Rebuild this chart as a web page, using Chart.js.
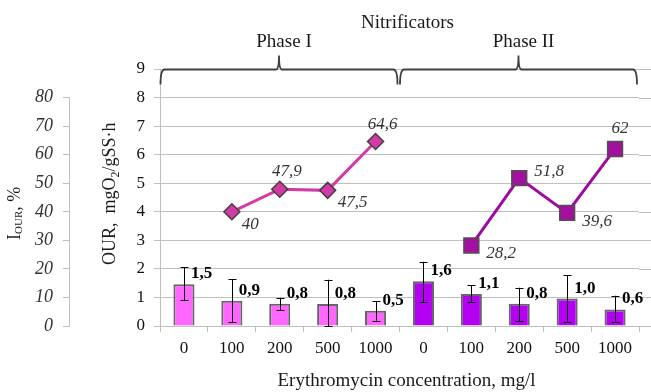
<!DOCTYPE html>
<html>
<head>
<meta charset="utf-8">
<script src="https://cdn.jsdelivr.net/npm/chart.js@4.4.1/dist/chart.umd.min.js"></script>
<style>
  html, body { margin: 0; padding: 0; background: #fff; }
</style>
</head>
<body>
<canvas id="chart" width="651" height="392"></canvas>
<script>
// values
const concentrations = ['0', '100', '200', '500', '1000', '0', '100', '200', '500', '1000'];
const phaseNames = ['Phase I', 'Phase II'];
const ourPhase1 = [1.46, 0.88, 0.78, 0.77, 0.53, null, null, null, null, null];
const ourPhase2 = [null, null, null, null, null, 1.57, 1.12, 0.78, 0.96, 0.58];
const ourErrLow = [0.91, 0.13, 0.55, 0.0, 0.19, 0.85, 0.83, 0.17, 0.13, 0.13];
const ourErrHigh = [2.05, 1.64, 0.99, 1.62, 0.87, 2.25, 1.43, 1.34, 1.77, 1.06];
const iourPhase1 = [null, 40, 47.9, 47.5, 64.6, null, null, null, null, null];
const iourPhase2 = [null, null, null, null, null, null, 28.2, 51.8, 39.6, 62];
const ourTicks = [0, 1, 2, 3, 4, 5, 6, 7, 8, 9];

const SERIF = 'Liberation Serif';
const GRID = '#BFBFBF';

const fmt = v => String(v).replace('.', ',');

// where the italic value labels sit around each marker
const labelOffsets = {
  rectRot: { a: [7, -13, 'center'], br: [10, 17, 'left'] },
  rect: { a: [5, -16, 'center'], br: [15, 13, 'left'], r: [15, -2, 'left'] }
};

function richText(ctx, parts) {
  let x = 0;
  for (const p of parts) {
    ctx.font = p.font;
    ctx.fillText(p.t, x, p.dy || 0);
    x += ctx.measureText(p.t).width;
  }
}

const annotations = {
  id: 'annotations',
  afterDatasetsDraw(chart) {
    const { ctx, chartArea: { left, right }, scales: { x, y, y2 } } = chart;
    ctx.save();

    // grid lines run on a bit past the last category
    ctx.strokeStyle = GRID;
    ctx.lineWidth = 1;
    ourTicks.forEach(v => {
      const py = Math.round(y.getPixelForValue(v)) + 0.5;
      ctx.beginPath();
      ctx.moveTo(right, py);
      ctx.lineTo(chart.width, py);
      ctx.stroke();
    });

    // I_OUR axis line only covers 0..80
    const ax = Math.round(y2.right) - 0.5;
    ctx.beginPath();
    ctx.moveTo(ax, y2.getPixelForValue(0));
    ctx.lineTo(ax, y2.getPixelForValue(80));
    ctx.stroke();

    // error bars
    ctx.strokeStyle = '#000';
    ctx.lineWidth = 1;
    concentrations.forEach((c, i) => {
      const px = Math.round(x.getPixelForValue(i)) + 0.5;
      const lo = y.getPixelForValue(ourErrLow[i]);
      const hi = y.getPixelForValue(ourErrHigh[i]);
      ctx.beginPath();
      ctx.moveTo(px, lo); ctx.lineTo(px, hi);
      ctx.moveTo(px - 4, Math.round(hi) + 0.5); ctx.lineTo(px + 4, Math.round(hi) + 0.5);
      ctx.moveTo(px - 4, Math.round(lo) + 0.5); ctx.lineTo(px + 4, Math.round(lo) + 0.5);
      ctx.stroke();
    });

    // bold bar values
    ctx.fillStyle = '#000';
    ctx.font = 'bold 17px ' + SERIF;
    ctx.textAlign = 'left';
    ctx.textBaseline = 'alphabetic';
    concentrations.forEach((c, i) => {
      const v = ourPhase1[i] != null ? ourPhase1[i] : ourPhase2[i];
      ctx.fillText(fmt(v.toFixed(1)), x.getPixelForValue(i) + 7, y.getPixelForValue(v) - 6);
    });

    // italic I_OUR values
    ctx.fillStyle = '#333';
    ctx.font = 'italic 17px ' + SERIF;
    chart.data.datasets.forEach((ds, di) => {
      if (!ds.labelPlace) return;
      const meta = chart.getDatasetMeta(di);
      ds.data.forEach((v, i) => {
        if (v == null) return;
        const el = meta.data[i];
        const [dx, dy, align] = labelOffsets[ds.pointStyle][ds.labelPlace[i]];
        ctx.textAlign = align;
        ctx.fillText(fmt(v), el.x + dx, el.y + dy);
      });
    });

    // phase braces
    const step = x.getPixelForValue(1) - x.getPixelForValue(0);
    const yb = Math.round(y.getPixelForValue(9)) + 0.5;
    ctx.strokeStyle = '#404040';
    ctx.lineWidth = 1.8;
    ctx.fillStyle = '#1a1a1a';
    ctx.font = '19px ' + SERIF;
    ctx.textAlign = 'center';
    phaseNames.forEach((name, g) => {
      const x0 = x.getPixelForValue(g * 5) - step / 2 + 0.5;
      const x1 = x.getPixelForValue(g * 5 + 4) + step / 2 - 2;
      const mid = (x0 + x1) / 2;
      ctx.beginPath();
      ctx.moveTo(x0, yb + 15);
      ctx.quadraticCurveTo(x0, yb, x0 + 4, yb);
      ctx.lineTo(mid - 3, yb);
      ctx.quadraticCurveTo(mid, yb, mid, yb - 14);
      ctx.quadraticCurveTo(mid, yb, mid + 3, yb);
      ctx.lineTo(x1 - 4, yb);
      ctx.quadraticCurveTo(x1, yb, x1, yb + 15);
      ctx.stroke();
      ctx.fillText(name, mid + 5, yb - 23);
    });
    ctx.fillText('Nitrificators', (left + right) / 2 + 8, 28);

    // x title
    ctx.fillText('Erythromycin concentration, mg/l', (left + right) / 2 + 7, 386);

    // rotated y titles with subscripts
    ctx.textAlign = 'left';
    ctx.save();
    ctx.translate(115, 265);
    ctx.rotate(-Math.PI / 2);
    richText(ctx, [
      { t: 'OUR,  mgO', font: '18px ' + SERIF },
      { t: '2', font: '12px ' + SERIF, dy: 4 },
      { t: '/gSS·h', font: '18px ' + SERIF }
    ]);
    ctx.restore();

    ctx.save();
    ctx.translate(20, 240);
    ctx.rotate(-Math.PI / 2);
    richText(ctx, [
      { t: 'I', font: '18px ' + SERIF },
      { t: 'OUR', font: '11px ' + SERIF, dy: 2 },
      { t: ', %', font: '18px ' + SERIF }
    ]);
    ctx.restore();

    ctx.restore();
  }
};

new Chart(document.getElementById('chart'), {
  type: 'bar',
  data: {
    labels: concentrations,
    datasets: [{
      type: 'line',
      label: 'I OUR, phase I',
      data: iourPhase1,
      yAxisID: 'y2',
      order: 1,
      borderColor: '#D43AA6',
      borderWidth: 3,
      pointStyle: 'rectRot',
      pointRadius: 8,
      pointBackgroundColor: '#D43AA6',
      pointBorderColor: '#404040',
      pointBorderWidth: 1.5,
      labelPlace: [null, 'br', 'a', 'br', 'a', null, null, null, null, null]
    }, {
      type: 'line',
      label: 'I OUR, phase II',
      data: iourPhase2,
      yAxisID: 'y2',
      order: 1,
      borderColor: '#9E0C9E',
      borderWidth: 3,
      pointStyle: 'rect',
      pointRadius: 10.5,
      pointBackgroundColor: '#A3109F',
      pointBorderColor: '#505050',
      pointBorderWidth: 1.5,
      labelPlace: [null, null, null, null, null, null, 'br', 'r', 'br', 'a']
    }, {
      label: 'OUR, phase I',
      data: ourPhase1,
      order: 2,
      grouped: false,
      backgroundColor: '#FF66FF',
      borderColor: '#666666',
      borderWidth: 2,
      barPercentage: 0.44,
      categoryPercentage: 1
    }, {
      label: 'OUR, phase II',
      data: ourPhase2,
      order: 2,
      grouped: false,
      backgroundColor: '#B300F2',
      borderColor: '#666666',
      borderWidth: 2,
      barPercentage: 0.44,
      categoryPercentage: 1
    }]
  },
  options: {
    responsive: false,
    animation: false,
    layout: { padding: { top: 69, right: 9, bottom: 0, left: 0 } },
    plugins: {
      legend: { display: false },
      tooltip: { enabled: false }
    },
    scales: {
      x: {
        grid: { drawOnChartArea: false, tickLength: 6, color: GRID, offset: true },
        border: { color: GRID },
        ticks: { font: { family: SERIF, size: 17 }, color: '#111', padding: 6, maxRotation: 0, autoSkip: false },
        afterFit: s => { s.height = 66; }
      },
      y: {
        position: 'left',
        weight: 0,
        min: 0,
        max: 9,
        ticks: { stepSize: 1, font: { family: SERIF, size: 17 }, color: '#111', padding: 9 },
        grid: { color: GRID, tickLength: 6 },
        border: { color: GRID },
        afterFit: s => { s.width = 90; }
      },
      y2: {
        position: 'left',
        weight: 1,
        min: 0,
        max: 90,
        ticks: {
          stepSize: 10,
          callback: v => (v > 80 ? '' : v),
          font: { family: SERIF, size: 18, style: 'italic' },
          color: '#333',
          padding: 10
        },
        grid: {
          drawOnChartArea: false,
          tickLength: 7,
          color: c => (c.tick && c.tick.value > 80 ? 'rgba(0,0,0,0)' : GRID)
        },
        border: { display: false },
        afterFit: s => { s.width = 70; }
      }
    }
  },
  plugins: [annotations]
});
</script>
</body>
</html>
